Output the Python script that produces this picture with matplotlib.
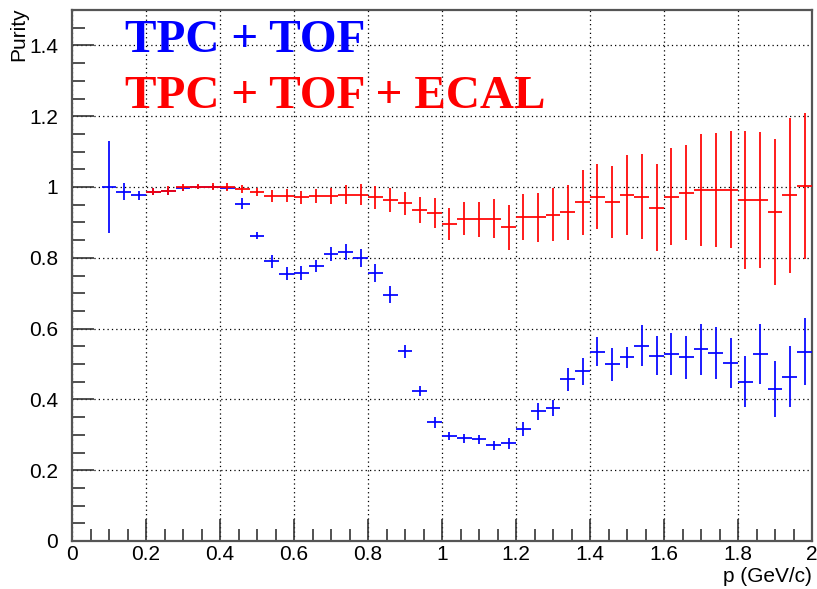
import numpy as np
import matplotlib
matplotlib.use("Agg")
import matplotlib.pyplot as plt
from matplotlib.ticker import MultipleLocator

# Momentum binning: 0.04 GeV/c wide bins from 0.08 to 2.00
bin_width = 0.04
p_centers = np.round(np.arange(0.10, 2.0, bin_width), 2)

# Purity with TPC + TOF identification (one entry per bin)
purity_tof = [1.000, 0.987, 0.977, 0.986, 0.988, 0.996, 0.999, 1.000, 0.997, 0.953,
              0.862, 0.790, 0.755, 0.758, 0.777, 0.810, 0.817, 0.800, 0.758, 0.696,
              0.536, 0.424, 0.335, 0.297, 0.290, 0.287, 0.270, 0.276, 0.317, 0.366,
              0.375, 0.457, 0.480, 0.535, 0.499, 0.519, 0.552, 0.524, 0.528, 0.519,
              0.542, 0.532, 0.502, 0.450, 0.528, 0.430, 0.464, 0.535]
err_tof = [0.130, 0.025, 0.013, 0.010, 0.010, 0.008, 0.006, 0.006, 0.006, 0.015,
           0.010, 0.018, 0.018, 0.020, 0.018, 0.020, 0.022, 0.025, 0.025, 0.025,
           0.018, 0.015, 0.015, 0.012, 0.012, 0.012, 0.013, 0.015, 0.020, 0.023,
           0.022, 0.032, 0.038, 0.041, 0.046, 0.030, 0.057, 0.055, 0.060, 0.060,
           0.072, 0.073, 0.071, 0.072, 0.085, 0.079, 0.086, 0.095]

# Purity with TPC + TOF + ECAL identification (starts at the 0.22 GeV/c bin)
ecal_first_bin = 3
purity_ecal = [0.987, 0.990, 0.999, 1.001, 1.001, 1.000, 0.995, 0.986, 0.975, 0.975,
               0.971, 0.975, 0.975, 0.978, 0.978, 0.971, 0.963, 0.954, 0.935, 0.926,
               0.895, 0.911, 0.909, 0.911, 0.886, 0.914, 0.914, 0.922, 0.928, 0.957,
               0.973, 0.957, 0.976, 0.973, 0.942, 0.973, 0.984, 0.992, 0.992, 0.992,
               0.963, 0.963, 0.930, 0.977, 1.003]
err_ecal = [0.010, 0.012, 0.010, 0.008, 0.010, 0.010, 0.012, 0.012, 0.016, 0.018,
            0.018, 0.020, 0.022, 0.027, 0.030, 0.032, 0.033, 0.032, 0.038, 0.042,
            0.045, 0.046, 0.050, 0.055, 0.063, 0.065, 0.068, 0.075, 0.078, 0.092,
            0.091, 0.102, 0.113, 0.119, 0.124, 0.136, 0.135, 0.159, 0.161, 0.165,
            0.195, 0.193, 0.207, 0.219, 0.207]

W, H = 817, 589
fig = plt.figure(figsize=(W / 100, H / 100), dpi=100)
ax = fig.add_axes([72 / W, 1 - 541 / H, (812 - 72) / W, (541 - 10) / H])

ax.errorbar(p_centers, purity_tof, xerr=bin_width / 2, yerr=err_tof, fmt="none",
            ecolor="#0000ff", elinewidth=1.25, capsize=0, zorder=3)
ax.errorbar(p_centers[ecal_first_bin:], purity_ecal, xerr=bin_width / 2, yerr=err_ecal,
            fmt="none", ecolor="#ff0000", elinewidth=1.25, capsize=0, zorder=4)

ax.set_xlim(0, 2)
ax.set_ylim(0, 1.5)
ax.xaxis.set_major_locator(MultipleLocator(0.2))
ax.xaxis.set_minor_locator(MultipleLocator(0.05))
ax.yaxis.set_major_locator(MultipleLocator(0.2))
ax.yaxis.set_minor_locator(MultipleLocator(0.05))
ax.xaxis.set_major_formatter(plt.FuncFormatter(lambda v, _: f"{v:g}"))
ax.yaxis.set_major_formatter(plt.FuncFormatter(lambda v, _: f"{v:g}"))

ax.grid(True, which="major", color="black", linestyle=(0, (1, 2.5)), linewidth=0.9)
ax.set_axisbelow(True)

for s in ax.spines.values():
    s.set_color("#555555")
    s.set_linewidth(1.6)

ax.tick_params(which="both", direction="in", top=False, right=False,
               color="#333333", width=1.2, labelsize=15, labelcolor="black")
ax.tick_params(which="major", length=16)
ax.tick_params(which="minor", length=9)
ax.tick_params(axis="y", which="major", pad=10)
ax.tick_params(axis="x", which="major", pad=3)
for lab in ax.get_xticklabels() + ax.get_yticklabels():
    lab.set_family("Liberation Sans")

fig.text(812 / W, 1 - 577 / H, "p (GeV/c)", ha="right", va="center",
         fontsize=15, family="Liberation Sans")
fig.text(19 / W, 1 - 7 / H, "Purity", ha="center", va="top", rotation=90,
         fontsize=15, family="Liberation Sans")

fig.text(125 / W, 1 - 52 / H, "TPC + TOF", color="#0000ff", fontsize=34,
         fontweight="bold", family="Liberation Serif", va="baseline", ha="left")
fig.text(125 / W, 1 - 108 / H, "TPC + TOF + ECAL", color="#ff0000", fontsize=34,
         fontweight="bold", family="Liberation Serif", va="baseline", ha="left")

fig.savefig("out.png", dpi=100)
